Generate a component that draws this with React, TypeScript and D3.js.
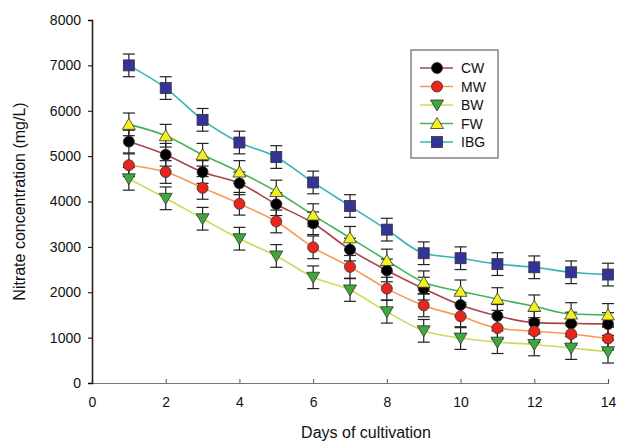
import React, { useEffect, useRef } from 'react';
import * as d3 from 'd3';

const days = [1, 2, 3, 4, 5, 6, 7, 8, 9, 10, 11, 12, 13, 14];
const seriesNames = ['CW', 'MW', 'BW', 'FW', 'IBG'];
const cwValues = [5320, 5030, 4650, 4400, 3940, 3520, 2940, 2480, 2080, 1720, 1480, 1330, 1310, 1300];
const mwValues = [4800, 4650, 4300, 3950, 3560, 2990, 2560, 2080, 1710, 1470, 1210, 1140, 1080, 980];
const bwValues = [4500, 4070, 3620, 3180, 2800, 2330, 2050, 1570, 1150, 990, 900, 850, 770, 690];
const fwValues = [5700, 5450, 5030, 4650, 4220, 3700, 3200, 2700, 2220, 2020, 1850, 1690, 1520, 1500];
const ibgValues = [7000, 6500, 5800, 5300, 4980, 4420, 3900, 3380, 2860, 2750, 2620, 2550, 2440, 2390];
const errorValue = 250;
const xTicks = [0, 2, 4, 6, 8, 10, 12, 14];
const yTicks = [0, 1000, 2000, 3000, 4000, 5000, 6000, 7000, 8000];

const styles = [
  { line: '#a8454a', fill: '#000000', shape: 'circle' },
  { line: '#f79a50', fill: '#e8261e', shape: 'circle' },
  { line: '#cbdc5a', fill: '#3da83d', shape: 'down' },
  { line: '#45b258', fill: '#f2f01e', shape: 'up' },
  { line: '#35b5b5', fill: '#33339a', shape: 'square' },
];

function App() {
  const ref = useRef<SVGSVGElement>(null);

  useEffect(() => {
    const svg = d3.select(ref.current);
    svg.selectAll('*').remove();

    const width = 622;
    const height = 442;
    const margin = { top: 20, right: 14, bottom: 59, left: 92 };
    const font = 'Liberation Sans, Arial, sans-serif';

    const x = d3.scaleLinear().domain([0, 14]).range([margin.left, width - margin.right]);
    const y = d3.scaleLinear().domain([0, 8000]).range([height - margin.bottom, margin.top]);

    const allSeries = [cwValues, mwValues, bwValues, fwValues, ibgValues];

    // x axis (grey, ticks inward)
    const xg = svg
      .append('g')
      .attr('transform', `translate(0,${y(0)})`)
      .call(d3.axisBottom(x).tickValues(xTicks).tickSize(-4).tickPadding(14));
    xg.select('.domain').attr('stroke', '#777').attr('stroke-width', 1.2);
    xg.selectAll('.tick line').attr('stroke', '#555');
    xg.selectAll('text').style('font-family', font).style('font-size', '14px').style('fill', '#111');

    // y axis
    const yg = svg
      .append('g')
      .attr('transform', `translate(${margin.left},0)`)
      .call(d3.axisLeft(y).tickValues(yTicks).tickSize(4).tickPadding(7).tickFormat(d3.format('d')));
    yg.select('.domain').attr('stroke', '#222').attr('stroke-width', 1.6);
    yg.selectAll('text').style('font-family', font).style('font-size', '14px').style('fill', '#111');

    // lines
    const line = d3
      .line<number>()
      .x((_, i) => x(days[i]))
      .y((d) => y(d))
      .curve(d3.curveMonotoneX);

    allSeries.forEach((vals, s) => {
      svg
        .append('path')
        .datum(vals)
        .attr('fill', 'none')
        .attr('stroke', styles[s].line)
        .attr('stroke-width', 1.6)
        .attr('d', line);
    });

    // error bars
    const eg = svg.append('g').attr('stroke', '#222').attr('stroke-width', 1.2);
    allSeries.forEach((vals) => {
      vals.forEach((v, i) => {
        const cx = x(days[i]);
        eg.append('line').attr('x1', cx).attr('x2', cx).attr('y1', y(v - errorValue)).attr('y2', y(v + errorValue));
        eg.append('line').attr('x1', cx - 6).attr('x2', cx + 6).attr('y1', y(v + errorValue)).attr('y2', y(v + errorValue));
        eg.append('line').attr('x1', cx - 6).attr('x2', cx + 6).attr('y1', y(v - errorValue)).attr('y2', y(v - errorValue));
      });
    });

    const drawMarker = (g: any, cx: number, cy: number, s: number) => {
      const st = styles[s];
      if (st.shape === 'circle') {
        g.append('circle').attr('cx', cx).attr('cy', cy).attr('r', 5.5);
      } else if (st.shape === 'square') {
        g.append('rect').attr('x', cx - 5.5).attr('y', cy - 5.5).attr('width', 11).attr('height', 11);
      } else if (st.shape === 'up') {
        g.append('path').attr('d', `M${cx},${cy - 6} L${cx + 6.5},${cy + 5} L${cx - 6.5},${cy + 5} Z`);
      } else {
        g.append('path').attr('d', `M${cx},${cy + 6} L${cx + 6.5},${cy - 5} L${cx - 6.5},${cy - 5} Z`);
      }
    };

    // markers
    allSeries.forEach((vals, s) => {
      const g = svg.append('g').attr('fill', styles[s].fill).attr('stroke', '#333').attr('stroke-width', 0.8);
      vals.forEach((v, i) => drawMarker(g, x(days[i]), y(v), s));
    });

    // legend
    const lg = svg.append('g');
    lg.append('rect')
      .attr('x', 411)
      .attr('y', 50)
      .attr('width', 87)
      .attr('height', 108)
      .attr('fill', '#fff')
      .attr('stroke', '#444')
      .attr('stroke-width', 1);
    seriesNames.forEach((name, s) => {
      const ly = 68 + s * 18.5;
      lg.append('line').attr('x1', 420).attr('x2', 453).attr('y1', ly).attr('y2', ly).attr('stroke', styles[s].line).attr('stroke-width', 1.6);
      const mg = lg.append('g').attr('fill', styles[s].fill).attr('stroke', '#333').attr('stroke-width', 0.8);
      drawMarker(mg, 437, ly, s);
      lg.append('text')
        .attr('x', 461)
        .attr('y', ly + 5)
        .style('font-family', font)
        .style('font-size', '14px')
        .style('fill', '#111')
        .text(name);
    });

    // axis titles
    svg
      .append('text')
      .attr('x', 366)
      .attr('y', 438)
      .attr('text-anchor', 'middle')
      .style('font-family', font)
      .style('font-size', '16px')
      .style('fill', '#111')
      .text('Days of cultivation');

    svg
      .append('text')
      .attr('transform', `translate(25,${(margin.top + height - margin.bottom) / 2}) rotate(-90)`)
      .attr('text-anchor', 'middle')
      .style('font-family', font)
      .style('font-size', '16px')
      .style('fill', '#111')
      .text('Nitrate concentration (mg/L)');
  }, []);

  return <svg ref={ref} width={622} height={442} style={{ position: 'absolute', left: 0, top: 0, background: '#fff' }}></svg>;
}

export default App;
